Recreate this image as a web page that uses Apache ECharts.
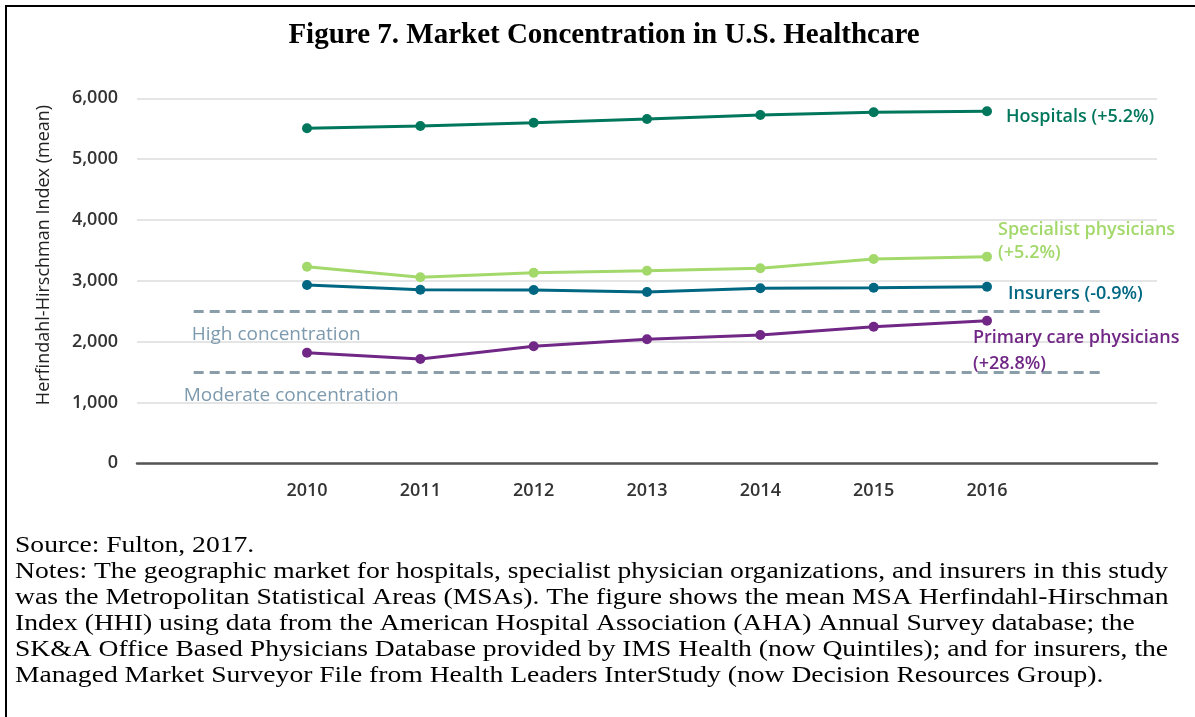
<!DOCTYPE html>
<html>
<head>
<meta charset="utf-8">
<script src="https://cdn.jsdelivr.net/npm/echarts@6/dist/echarts.min.js"></script>
<style>
html,body{margin:0;padding:0;background:#fff;}
#chart{width:1195px;height:717px;}
</style>
</head>
<body>
<div id="chart"></div>
<script>
var years = [2010, 2011, 2012, 2013, 2014, 2015, 2016];
var hospitals = [5507, 5545, 5599, 5660, 5725, 5770, 5787];
var specialists = [3232, 3058, 3133, 3166, 3206, 3359, 3397];
var insurers = [2931, 2854, 2849, 2816, 2877, 2887, 2903];
var primaryCare = [1818, 1715, 1923, 2038, 2109, 2246, 2344];
var thresholds = [2500, 1500];
var thresholdNames = ['High concentration', 'Moderate concentration'];
var thresholdSpan = [2009, 2017];
var yTicks = [0, 1000, 2000, 3000, 4000, 5000, 6000];
var seriesNames = ['Hospitals (+5.2%)', 'Specialist physicians\n(+5.2%)', 'Insurers (-0.9%)', 'Primary care physicians\n(+28.8%)'];
var titleText = 'Figure 7. Market Concentration in U.S. Healthcare';
var yAxisTitle = 'Herfindahl-Hirschman Index (mean)';
var notes = [
  'Source: Fulton, 2017.',
  'Notes: The geographic market for hospitals, specialist physician organizations, and insurers in this study',
  'was the Metropolitan Statistical Areas (MSAs). The figure shows the mean MSA Herfindahl-Hirschman',
  'Index (HHI) using data from the American Hospital Association (AHA) Annual Survey database; the',
  'SK&A Office Based Physicians Database provided by IMS Health (now Quintiles); and for insurers, the',
  'Managed Market Surveyor File from Health Leaders InterStudy (now Decision Resources Group).'
];

var colors = ['#00775c', '#a3d86b', '#006783', '#702785'];
var sans = '"Open Sans", "Noto Sans", sans-serif';
var serif = '"Liberation Serif", "Times New Roman", serif';

function pairs(vals) { return years.map(function (y, i) { return [y, vals[i]]; }); }

function mkSeries(name, vals, color, labelOpt) {
  var d = pairs(vals);
  var last = d.length - 1;
  var data = d.map(function (p, i) {
    if (i === last) {
      return { value: p, label: Object.assign({
        show: true, position: 'right', color: color, fontFamily: sans,
        fontWeight: 600, fontSize: 18, lineHeight: 24, align: 'left',
        formatter: name
      }, labelOpt) };
    }
    return p;
  });
  return {
    type: 'line', name: name, data: data, symbol: 'circle', symbolSize: 10,
    lineStyle: { color: color, width: 3 }, itemStyle: { color: color },
    z: 5, animation: false
  };
}

var labelShift = [[-2, 14], [-10, 14]];
var dashMark = {
  type: 'line', data: [], silent: true, animation: false,
  markLine: {
    symbol: 'none', silent: true, animation: false,
    lineStyle: { type: [10, 6], color: '#8a9ea9', width: 3 },
    label: { show: true, position: 'insideStartBottom', color: '#7d9aae', fontFamily: sans, fontSize: 19 },
    data: thresholds.map(function (t, i) {
      return [{ coord: [thresholdSpan[0], t], label: { formatter: thresholdNames[i], distance: labelShift[i] } },
              { coord: [thresholdSpan[1], t] }];
    })
  }
};

var chart = echarts.init(document.getElementById('chart'), null, { renderer: 'canvas' });
var graphics = [{
  type: 'rect', shape: { x: 6, y: 6, width: 1200, height: 720 },
  style: { fill: 'none', stroke: '#000', lineWidth: 2 }, z: -1
}, {
  type: 'text', x: 44, y: 255, rotation: Math.PI / 2,
  style: { text: yAxisTitle, fontFamily: sans, fontSize: 18, fill: '#222', align: 'center', verticalAlign: 'middle' }
}, {
  type: 'text', x: 604, y: 36,
  style: { text: titleText, fontFamily: serif, fontSize: 29, fontWeight: 'bold', fill: '#000', align: 'center', verticalAlign: 'middle' }
}];
notes.forEach(function (t, i) {
  graphics.push({
    type: 'text', x: 15, y: 546 + i * 26, scaleX: 1.2, originX: 0,
    style: { text: t, fontFamily: serif, fontSize: 23, fill: '#000', verticalAlign: 'middle' }
  });
});

chart.setOption({
  animation: false,
  backgroundColor: '#fff',
  grid: { left: 137, right: 38, top: 98.3, bottom: 253.7 },
  xAxis: {
    type: 'value', min: 2008.5, max: 2017.5,
    axisLine: { show: true, lineStyle: { color: '#555', width: 2.5 } },
    axisTick: { show: false },
    splitLine: { show: false },
    axisLabel: { customValues: years, margin: 19, fontFamily: sans, fontSize: 18, fontWeight: 600, color: '#333',
      formatter: function (v) { return String(v); } }
  },
  yAxis: {
    type: 'value', min: 0, max: 6000, interval: 1000,
    axisLine: { show: false }, axisTick: { show: false },
    splitLine: { lineStyle: { color: '#dcdcdc', width: 1.5 } },
    axisLabel: { margin: 19, fontFamily: sans, fontSize: 18, fontWeight: 600, color: '#333',
      formatter: function (v) { return yTicks.indexOf(v) >= 0 ? v.toLocaleString('en-US') : ''; } }
  },
  graphic: graphics,
  series: [
    dashMark,
    mkSeries(seriesNames[0], hospitals, colors[0], { distance: 14, offset: [0, 6] }),
    mkSeries(seriesNames[1], specialists, colors[1], { distance: 6, lineHeight: 23, offset: [0, -15] }),
    mkSeries(seriesNames[2], insurers, colors[2], { distance: 16, offset: [0, 7] }),
    mkSeries(seriesNames[3], primaryCare, colors[3], { distance: 0, lineHeight: 26, offset: [-19, 30] })
  ]
});
</script>
</body>
</html>
